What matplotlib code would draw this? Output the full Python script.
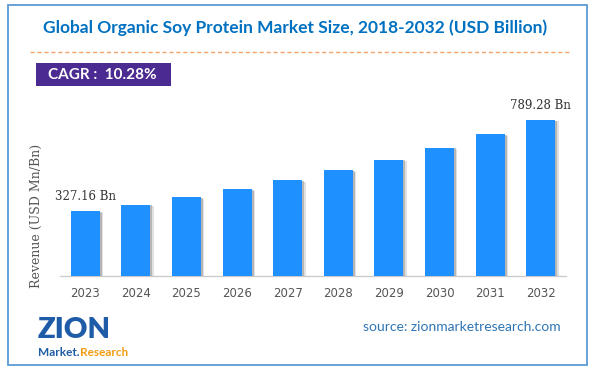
import matplotlib
matplotlib.use("Agg")
import matplotlib.pyplot as plt
import matplotlib.patheffects as pe
from matplotlib.patches import Rectangle
from matplotlib.lines import Line2D

years = ["2023", "2024", "2025", "2026", "2027", "2028", "2029", "2030", "2031", "2032"]
values = [327.16, 360.8, 397.9, 438.8, 483.9, 533.6, 588.5, 649.0, 715.7, 789.28]
first_label = "327.16 Bn"
last_label = "789.28 Bn"
title = "Global Organic Soy Protein Market Size, 2018-2032 (USD Billion)"
cagr_text = "CAGR :  10.28%"
ylabel = "Revenue (USD Mn/Bn)"
source = "source: zionmarketresearch.com"

W, H = 596, 370
fig = plt.figure(figsize=(W / 100, H / 100), dpi=100)
fig.patch.set_facecolor("white")

def fx(px):
    return px / W

def fy(py):
    return 1 - py / H

# outer border
fig.add_artist(Rectangle((fx(8), fy(365)), fx(587) - fx(8), fy(5) - fy(365),
                         transform=fig.transFigure, fill=False,
                         edgecolor="#5b9bd5", linewidth=1.3))

# title
fig.text(fx(295), fy(28), title, ha="center", va="center",
         fontsize=12.5, fontweight="bold", color="#0070c0", family="Lato")

# dashed line
fig.add_artist(Line2D([fx(30), fx(571)], [fy(52), fy(52)], transform=fig.transFigure,
                      color="#f4a46a", linewidth=1.0, linestyle=(0, (3, 2))))

# CAGR box
fig.add_artist(Rectangle((fx(36), fy(86)), fx(171) - fx(36), fy(63) - fy(86),
                         transform=fig.transFigure, facecolor="#4b2a91",
                         edgecolor="none"))
fig.text(fx(102), fy(75), cagr_text, ha="center", va="center",
         fontsize=11, fontweight="bold", color="white", family="Lato")

# axes
ax = fig.add_axes([fx(60), fy(276), fx(566) - fx(60), fy(100) - fy(276)])
x = list(range(len(years)))
bars = ax.bar(x, values, width=0.57, color="#1e90ff", zorder=3)
for b in bars:
    b.set_path_effects([
        pe.SimplePatchShadow(offset=(2.5, -1.0), shadow_rgbFace="#888888", alpha=0.25),
        pe.SimplePatchShadow(offset=(1.5, -0.5), shadow_rgbFace="#666666", alpha=0.35),
        pe.Normal()])
ax.set_xlim(-0.5, len(years) - 0.5)
ax.set_ylim(0, 890)
ax.set_xticks(x)
ax.set_xticklabels(years, fontsize=8.5, color="#555555", family="DejaVu Sans")
ax.tick_params(axis="x", length=0, pad=8)
ax.set_yticks([])
for s in ["top", "right", "left"]:
    ax.spines[s].set_visible(False)
ax.spines["bottom"].set_color("#cccccc")
ax.spines["bottom"].set_linewidth(1)

ax.annotate(first_label, (x[0], values[0]), xytext=(0, 6), textcoords="offset points",
            ha="center", va="bottom", fontsize=8.5, color="#333333", family="DejaVu Serif")
ax.annotate(last_label, (x[-1], values[-1]), xytext=(0, 6), textcoords="offset points",
            ha="center", va="bottom", fontsize=8.5, color="#333333", family="DejaVu Serif")

fig.text(fx(36), fy(216), ylabel, rotation=90, ha="center", va="center",
         fontsize=9, color="#555555", family="DejaVu Serif")

# source
fig.text(fx(561), fy(327), source, ha="right", va="center",
         fontsize=10, color="#2e75b6", family="Lato")

# logo
fig.text(fx(38), fy(338), "ZION", ha="left", va="baseline", fontsize=21,
         fontweight="heavy", color="#1f5ca8", family="Lato")
fig.text(fx(38), fy(356), "Market.", ha="left", va="baseline", fontsize=8.5,
         fontweight="bold", color="#1f5ca8", family="Lato")
fig.text(fx(80), fy(356), "Research", ha="left", va="baseline", fontsize=8.5,
         fontweight="bold", color="#f39c12", family="Lato")

fig.savefig("out.png", dpi=100, facecolor="white")
